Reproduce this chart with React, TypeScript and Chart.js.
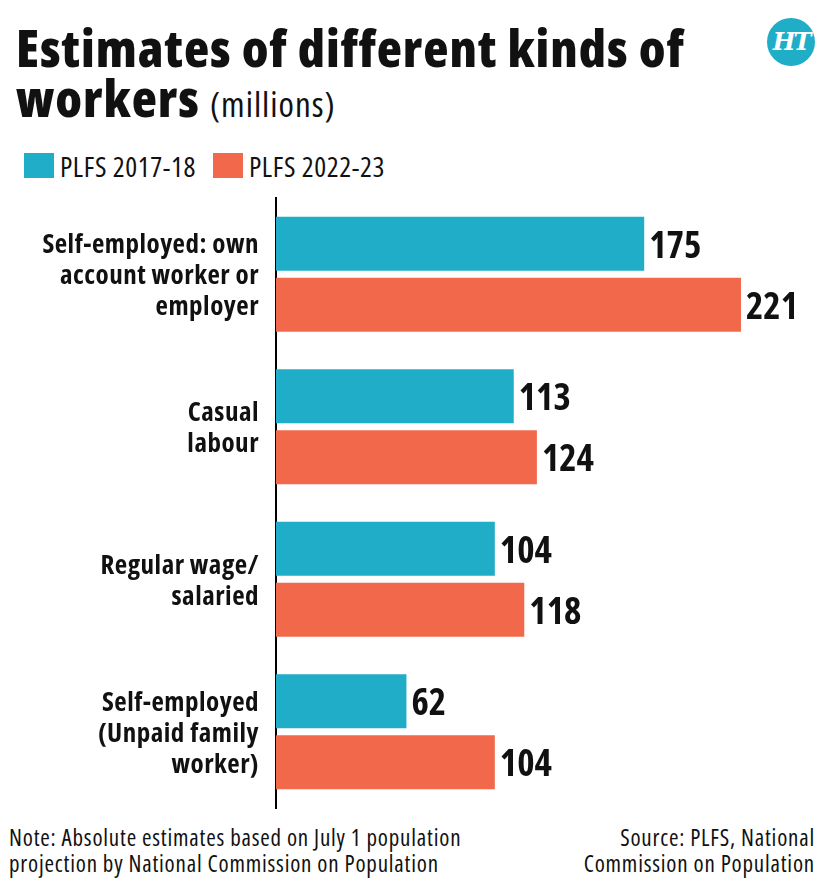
import React, { useEffect, useRef } from "react";
import { Chart, registerables } from "chart.js";

Chart.register(...registerables);

// Worker categories (multi-line labels) and estimates in millions
const categories: string[][] = [
  ["Self-employed: own", "account worker or", "employer"],
  ["Casual", "labour"],
  ["Regular wage/", "salaried"],
  ["Self-employed", "(Unpaid family", "worker)"],
];
const plfs201718: number[] = [175, 113, 104, 62];
const plfs202223: number[] = [221, 124, 118, 104];
const seriesNames: string[] = ["PLFS 2017-18", "PLFS 2022-23"];

const CYAN = "#20adc8";
const ORANGE = "#f1684b";
const INK = "#111111";
const FAMILY = "'Open Sans', 'Noto Sans', sans-serif";

// Category names on the left of the y axis, right-aligned against it
const categoryLabels = {
  id: "categoryLabels",
  afterDraw(chart: any) {
    const ctx = chart.ctx;
    const scale = chart.scales.y;
    const right = scale.right - 17;
    const lineH = 31;
    ctx.save();
    ctx.font = `bold 27px ${FAMILY}`;
    (ctx as any).fontStretch = "semi-condensed";
    (ctx as any).letterSpacing = "0.5px";
    ctx.fillStyle = INK;
    ctx.textAlign = "right";
    ctx.textBaseline = "alphabetic";
    (chart.data.labels as string[][]).forEach((lines, i) => {
      const cy = scale.getPixelForTick(i);
      lines.forEach((line, k) => {
        const y = cy + (k - (lines.length - 1) / 2) * lineH + 10;
        ctx.fillText(line, right, y);
      });
    });
    ctx.restore();
  },
};

// Value written just past the end of each bar
const valueLabels = {
  id: "valueLabels",
  afterDatasetsDraw(chart: any) {
    const ctx = chart.ctx;
    ctx.save();
    ctx.font = `bold 37px ${FAMILY}`;
    (ctx as any).fontStretch = "condensed";
    ctx.fillStyle = INK;
    ctx.textAlign = "left";
    ctx.textBaseline = "alphabetic";
    chart.data.datasets.forEach((ds: any, di: number) => {
      const meta = chart.getDatasetMeta(di);
      meta.data.forEach((el: any, i: number) => {
        ctx.fillText(String(ds.data[i]), el.x + 5, el.y + 14);
      });
    });
    ctx.restore();
  },
};

function BarChart() {
  const ref = useRef<HTMLCanvasElement | null>(null);
  useEffect(() => {
    if (!ref.current) return;
    const chart = new Chart(ref.current, {
      type: "bar",
      data: {
        labels: categories,
        datasets: [
          { label: seriesNames[0], data: plfs201718, backgroundColor: CYAN },
          { label: seriesNames[1], data: plfs202223, backgroundColor: ORANGE },
        ],
      },
      options: {
        indexAxis: "y",
        responsive: false,
        animation: false,
        devicePixelRatio: 1,
        categoryPercentage: 0.8,
        barPercentage: 0.885,
        layout: { padding: { top: 8, bottom: 7, right: 19, left: 0 } },
        plugins: {
          legend: { display: false },
          tooltip: { enabled: false },
        },
        scales: {
          x: { display: false, min: 0, max: 250 },
          y: {
            afterFit: (scale: any) => {
              scale.width = 276;
              scale.paddingTop = 0;
              scale.paddingBottom = 0;
            },
            grid: { display: false, drawTicks: false },
            border: { display: true, color: "#000", width: 2 },
            ticks: { display: false },
          },
        },
      },
      plugins: [valueLabels, categoryLabels],
    } as any);
    return () => chart.destroy();
  }, []);
  return (
    <canvas
      ref={ref}
      width={821}
      height={625}
      style={{ position: "absolute", left: 0, top: 190, width: 821, height: 625 }}
    />
  );
}

export default function App() {
  const swatch = (left: number, c: string): React.CSSProperties => ({
    position: "absolute",
    left,
    top: 153,
    width: 30,
    height: 25,
    background: c,
  });
  const legendText = (left: number): React.CSSProperties => ({
    position: "absolute",
    left,
    top: 152,
    fontSize: 28,
    lineHeight: "28px",
    fontStretch: "75%",
    letterSpacing: "0.6px",
    whiteSpace: "nowrap",
  });
  const footer: React.CSSProperties = {
    position: "absolute",
    top: 824,
    fontSize: 23,
    lineHeight: "26px",
    fontStretch: "75%",
    letterSpacing: "0.8px",
    whiteSpace: "nowrap",
  };
  return (
    <div
      style={{
        position: "absolute",
        left: 0,
        top: 0,
        width: 821,
        height: 885,
        background: "#fff",
        fontFamily: FAMILY,
        color: INK,
        overflow: "hidden",
      }}
    >
      <div
        style={{
          position: "absolute",
          left: 16,
          top: 22,
          fontSize: 52,
          fontWeight: 800,
          fontStretch: "75%",
          letterSpacing: "1px",
          lineHeight: "50px",
          whiteSpace: "nowrap",
        }}
      >
        Estimates of different kinds of
        <br />
        workers{" "}
        <span style={{ fontWeight: 400, fontSize: 35, letterSpacing: "1px" }}>(millions)</span>
      </div>
      <div
        style={{
          position: "absolute",
          left: 767,
          top: 18,
          width: 48,
          height: 48,
          borderRadius: "50%",
          background: CYAN,
          color: "#fff",
          fontFamily: "'DejaVu Serif', 'Liberation Serif', serif",
          fontWeight: "bold",
          fontStyle: "italic",
          fontSize: 24,
          lineHeight: "48px",
          textAlign: "center",
          letterSpacing: -2,
        }}
      >
        HT
      </div>
      <div style={swatch(24, CYAN)} />
      <div style={legendText(60)}>{seriesNames[0]}</div>
      <div style={swatch(213, ORANGE)} />
      <div style={legendText(249)}>{seriesNames[1]}</div>
      <BarChart />
      <div style={{ ...footer, left: 9 }}>
        Note: Absolute estimates based on July 1 population
        <br />
        projection by National Commission on Population
      </div>
      <div style={{ ...footer, right: 6, textAlign: "right" }}>
        Source: PLFS, National
        <br />
        Commission on Population
      </div>
    </div>
  );
}
